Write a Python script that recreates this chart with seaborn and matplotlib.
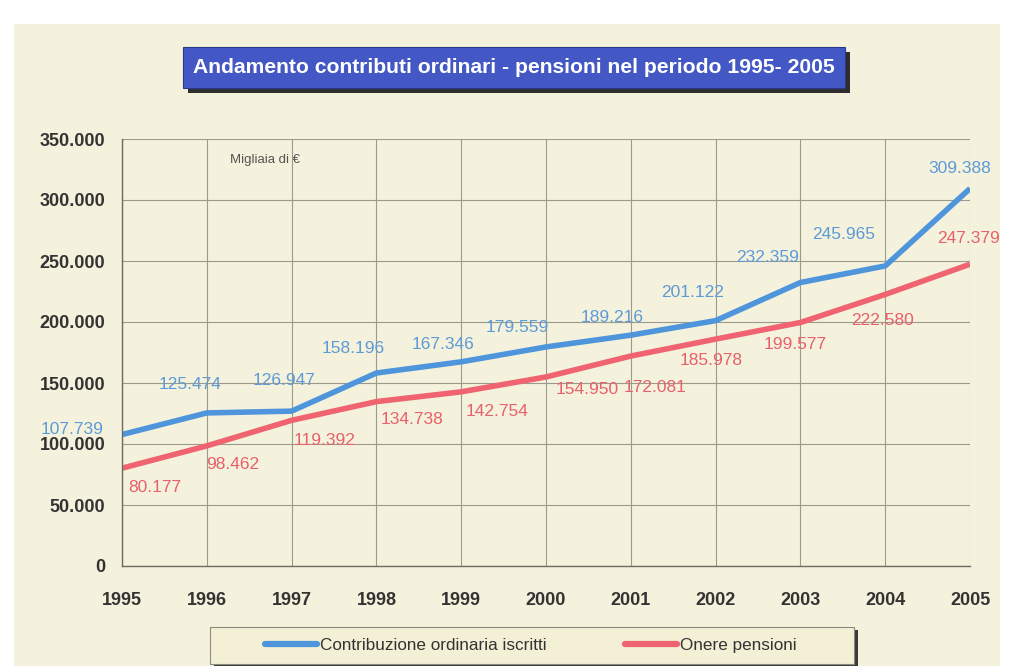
import matplotlib
matplotlib.use("Agg")
import matplotlib.pyplot as plt
from matplotlib.patches import Rectangle
from matplotlib.lines import Line2D
from matplotlib.ticker import FuncFormatter, MultipleLocator
import pandas as pd
import seaborn as sns

# ── dati (migliaia di €) ───────────────────────────
anni = [1995, 1996, 1997, 1998, 1999, 2000, 2001, 2002, 2003, 2004, 2005]
contributi = [107739, 125474, 126947, 158196, 167346, 179559,
              189216, 201122, 232359, 245965, 309388]
pensioni = [80177, 98462, 119392, 134738, 142754, 154950,
            172081, 185978, 199577, 222580, 247379]

serie_blu = "Contribuzione ordinaria iscritti"
serie_rossa = "Onere pensioni"
titolo = "Andamento contributi ordinari - pensioni nel periodo 1995- 2005"
unita = "Migliaia di €"

# ── stile ──────────────────────────────────────────
W, H = 1011, 666
SFONDO = "#f4f2dc"
BLU = "#4f95dc"
BLU_TXT = "#5d9ad6"
ROSSO = "#ef6470"
ROSSO_TXT = "#e8606a"
GRIGLIA = "#9b9a8c"

# spostamenti delle etichette (pixel, dx / dy verso l'alto)
off_blu = [(-50, 5), (-17, 28), (-8, 31), (-23, 25), (-18, 17), (-29, 19),
           (-19, 18), (-23, 28), (-33, 25), (-42, 31), (-10, 20)]
off_rosso = [(33, -19), (26, -19), (33, -20), (36, -18), (36, -20), (41, -13),
             (24, -31), (-4, -21), (-5, -22), (-3, -26), (-2, 26)]

sns.set_theme(style="white")
plt.rcParams["font.family"] = ["Liberation Sans", "DejaVu Sans"]

df = pd.DataFrame({
    "anno": anni * 2,
    "valore": contributi + pensioni,
    "serie": [serie_blu] * len(anni) + [serie_rossa] * len(anni),
})

fig = plt.figure(figsize=(W / 100, H / 100), dpi=100, facecolor="white")
renderer = fig.canvas.get_renderer()


def fx(px):
    return px / W


def fy(py):
    return 1 - py / H


def adatta(testo, larghezza_px):
    # riduce/aumenta il corpo finché il testo occupa la larghezza voluta
    base = testo.get_fontsize()
    w = testo.get_window_extent(renderer).width
    testo.set_fontsize(base * larghezza_px / w)
    return testo.get_fontsize()


# fondo crema
fig.add_artist(Rectangle((fx(14), 0), fx(1000) - fx(14), fy(24),
                         transform=fig.transFigure, facecolor=SFONDO,
                         edgecolor="none", zorder=-10))

ax = fig.add_axes([fx(122), fy(566), fx(970) - fx(122), fy(139) - fy(566)])
ax.set_facecolor("none")

sns.lineplot(data=df, x="anno", y="valore", hue="serie",
             palette={serie_blu: BLU, serie_rossa: ROSSO},
             linewidth=4, legend=False, ax=ax, solid_capstyle="butt")

ax.set_xlim(1995, 2005)
ax.set_ylim(0, 350000)
ax.xaxis.set_major_locator(MultipleLocator(1))
ax.yaxis.set_major_locator(MultipleLocator(50000))
ax.yaxis.set_major_formatter(
    FuncFormatter(lambda v, _: f"{int(v):,}".replace(",", ".")))
ax.grid(True, color=GRIGLIA, linewidth=0.8)
ax.set_axisbelow(True)
for lato in ["top", "right"]:
    ax.spines[lato].set_visible(False)
for lato in ["left", "bottom"]:
    ax.spines[lato].set_color("#6b6b62")
    ax.spines[lato].set_linewidth(1.0)
ax.tick_params(axis="y", length=5, width=0.8, color="#6b6b62", pad=7,
               labelsize=13, labelcolor="#333333")
ax.tick_params(axis="x", length=4, width=0.8, color="#6b6b62", pad=15,
               labelsize=13, labelcolor="#333333")
for t in ax.get_xticklabels() + ax.get_yticklabels():
    t.set_fontweight("bold")
ax.set_xlabel("")
ax.set_ylabel("")

# etichette dei valori
for anno, v, (dx, dy) in zip(anni, contributi, off_blu):
    ax.annotate(f"{v:,}".replace(",", "."), (anno, v), xytext=(dx, dy),
                textcoords="offset pixels", ha="center", va="center",
                fontsize=12.5, color=BLU_TXT, annotation_clip=False)
for anno, v, (dx, dy) in zip(anni, pensioni, off_rosso):
    ax.annotate(f"{v:,}".replace(",", "."), (anno, v), xytext=(dx, dy),
                textcoords="offset pixels", ha="center", va="center",
                fontsize=12.5, color=ROSSO_TXT, annotation_clip=False)

fig.text(fx(265), fy(160), unita, fontsize=9.5, color="#555550",
         ha="center", va="center")

# titolo in riquadro blu con ombra
fig.add_artist(Rectangle((fx(188), fy(93)), fx(850) - fx(188), fy(52) - fy(93),
                         transform=fig.transFigure, facecolor="#2e2e2e",
                         edgecolor="none", zorder=5))
fig.add_artist(Rectangle((fx(183), fy(88)), fx(845) - fx(183), fy(47) - fy(88),
                         transform=fig.transFigure, facecolor="#4358c4",
                         edgecolor="#2a3a8a", linewidth=0.8, zorder=6))
t_titolo = fig.text(fx(514), fy(67.5), titolo, fontsize=14, fontweight="bold",
                    color="white", ha="center", va="center", zorder=7)
adatta(t_titolo, 645)

# legenda
fig.add_artist(Rectangle((fx(214), fy(668)), fx(858) - fx(214), fy(630) - fy(668),
                         transform=fig.transFigure, facecolor="#3a3a36",
                         edgecolor="none", zorder=5))
fig.add_artist(Rectangle((fx(210), fy(664)), fx(854) - fx(210), fy(627) - fy(664),
                         transform=fig.transFigure, facecolor="#f3f0d6",
                         edgecolor="#8a8a80", linewidth=0.8, zorder=6))

prova = fig.text(0, 0, serie_blu, fontsize=12)
corpo = adatta(prova, 227)
prova.remove()
em = corpo * 100 / 72  # pixel per em

maniglie = [Line2D([], [], color=BLU, linewidth=4.5),
            Line2D([], [], color=ROSSO, linewidth=4.5)]
leg = fig.legend(maniglie, [serie_blu, serie_rossa], loc="center left",
                 bbox_to_anchor=(fx(265), fy(645)), ncol=2, frameon=False,
                 borderpad=0, borderaxespad=0,
                 handlelength=52 / em, handletextpad=3 / em,
                 columnspacing=78 / em,
                 prop={"size": corpo})
leg.set_zorder(8)
for t in leg.get_texts():
    t.set_color("#333333")

fig.savefig("out.png", dpi=100, facecolor=fig.get_facecolor())
